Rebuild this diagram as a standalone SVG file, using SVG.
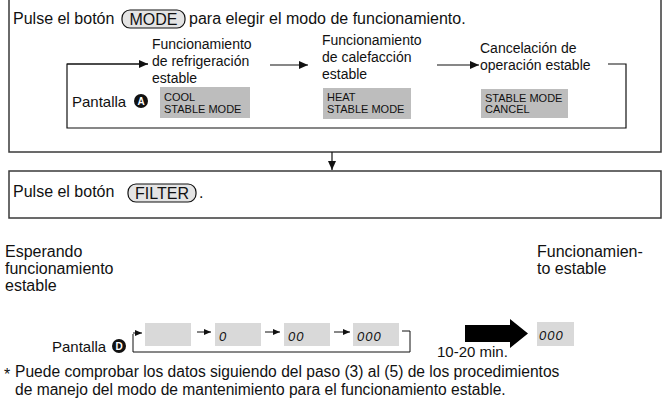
<svg xmlns="http://www.w3.org/2000/svg" width="670" height="398" viewBox="0 0 670 398">
<defs>
<style>
text{font-family:"Liberation Sans",Arial,sans-serif;fill:#111}
.t16{font-size:16px}
.t15{font-size:15px}
.t14{font-size:14px}
.t11{font-size:11px}
.note{font-size:15.6px}
.dig{font-family:"Liberation Sans",Arial,sans-serif;font-size:13px;font-style:italic;letter-spacing:1px}
.box{fill:none;stroke:#3a3a3a;stroke-width:1.5}
.line{fill:none;stroke:#111;stroke-width:1.2}
.thin{fill:none;stroke:#111;stroke-width:1}
.lcd{fill:#bdbdbd}
.lcd2{fill:#d9d9d9}
.btn{fill:#e4e4e4;stroke:#111;stroke-width:1.2}
</style>
<marker id="ah" markerWidth="10" markerHeight="8" refX="9" refY="4" orient="auto" markerUnits="userSpaceOnUse">
<path d="M0,0 L9,4 L0,8 Z" fill="#111"/>
</marker>
<marker id="as" markerWidth="7" markerHeight="6" refX="7" refY="3" orient="auto" markerUnits="userSpaceOnUse">
<path d="M0,0 L7,3 L0,6 Z" fill="#111"/>
</marker>
</defs>

<g id="step1">
<rect class="box" x="9" y="-2" width="652" height="154"/>
<text class="t16" x="13" y="24">Pulse el botón</text>
<rect class="btn" x="122" y="10" width="63" height="18" rx="8"/>
<text class="t16" x="153.5" y="25" text-anchor="middle">MODE</text>
<text class="t16" x="189" y="24">para elegir el modo de funcionamiento.</text>
</g>

<g id="cool">
<text class="t14" x="152" y="49">Funcionamiento</text>
<text class="t14" x="152" y="66">de refrigeración</text>
<text class="t14" x="152" y="83">estable</text>
<rect class="lcd" x="160" y="87" width="90" height="31"/>
<text class="t11" x="164" y="101">COOL</text>
<text class="t11" x="164" y="113">STABLE MODE</text>
</g>

<g id="heat">
<text class="t14" x="322" y="45">Funcionamiento</text>
<text class="t14" x="322" y="62">de calefacción</text>
<text class="t14" x="322" y="79">estable</text>
<rect class="lcd" x="323" y="88" width="88" height="31"/>
<text class="t11" x="327" y="101">HEAT</text>
<text class="t11" x="327" y="113">STABLE MODE</text>
</g>

<g id="cancel">
<text class="t14" x="480" y="53">Cancelación de</text>
<text class="t14" x="480" y="70">operación estable</text>
<rect class="lcd" x="481" y="89" width="87" height="29"/>
<text class="t11" x="485" y="102">STABLE MODE</text>
<text class="t11" x="485" y="113">CANCEL</text>
</g>

<g id="pantallaA">
<text class="t15" x="72" y="107">Pantalla</text>
<circle cx="141" cy="101" r="7" fill="#111"/>
<text x="141" y="105" text-anchor="middle" style="font-size:10px;font-weight:bold;fill:#fff">A</text>
</g>

<g id="step2">
<rect class="box" x="9" y="171" width="652" height="47"/>
<text class="t16" x="13" y="197">Pulse el botón</text>
<rect class="btn" x="128" y="184" width="68" height="18" rx="8"/>
<text class="t16" x="162" y="199" text-anchor="middle">FILTER</text>
<text class="t16" x="199" y="198">.</text>
</g>

<g id="waiting">
<text class="t16" x="5" y="257">Esperando</text>
<text class="t16" x="5" y="274">funcionamiento</text>
<text class="t16" x="5" y="291">estable</text>
<text class="t15" x="52" y="352">Pantalla</text>
<circle cx="119" cy="346" r="7" fill="#111"/>
<text x="119" y="350" text-anchor="middle" style="font-size:10px;font-weight:bold;fill:#fff">D</text>
<rect class="lcd2" x="145" y="323" width="46" height="23"/>
<rect class="lcd2" x="215" y="323" width="46" height="23"/>
<text class="dig" x="219" y="341">0</text>
<rect class="lcd2" x="284" y="323" width="46" height="23"/>
<text class="dig" x="288" y="341">00</text>
<rect class="lcd2" x="353" y="323" width="46" height="23"/>
<text class="dig" x="357" y="341">000</text>
</g>

<g id="stable">
<text class="t16" x="537" y="257">Funcionamien-</text>
<text class="t16" x="537" y="274">to estable</text>
<rect class="lcd2" x="537" y="322" width="37" height="24"/>
<text class="dig" x="539" y="340">000</text>
</g>

<g id="time">
<path d="M465,325 H510 V319 L528,333.5 L510,348 V342 H465 Z" fill="#000"/>
<text class="t15" x="437" y="357">10-20 min.</text>
</g>

<g id="note">
<text class="t16" x="4" y="380">*</text>
<text class="note" x="15" y="377">Puede comprobar los datos siguiendo del paso (3) al (5) de los procedimientos</text>
<text class="note" x="15" y="395">de manejo del modo de mantenimiento para el funcionamiento estable.</text>
</g>

<g id="connectors">
<line class="line" x1="332" y1="152" x2="332" y2="170" marker-end="url(#ah)"/>
<path class="line" d="M148,64 H67 V128 H626 V64 H608"/>
<line class="line" x1="67" y1="64" x2="148" y2="64" marker-end="url(#ah)"/>
<line class="line" x1="270" y1="65" x2="308" y2="65" marker-end="url(#ah)"/>
<line class="line" x1="437" y1="65" x2="479" y2="65" marker-end="url(#ah)"/>
<path class="thin" d="M133,334 V352 H410 V331 H402"/>
<line class="thin" x1="133" y1="333" x2="142" y2="333" marker-end="url(#as)"/>
<line class="thin" x1="197" y1="332" x2="211" y2="332" marker-end="url(#as)"/>
<line class="thin" x1="265" y1="332" x2="280" y2="332" marker-end="url(#as)"/>
<line class="thin" x1="334" y1="332" x2="350" y2="332" marker-end="url(#as)"/>
</g>
</svg>
